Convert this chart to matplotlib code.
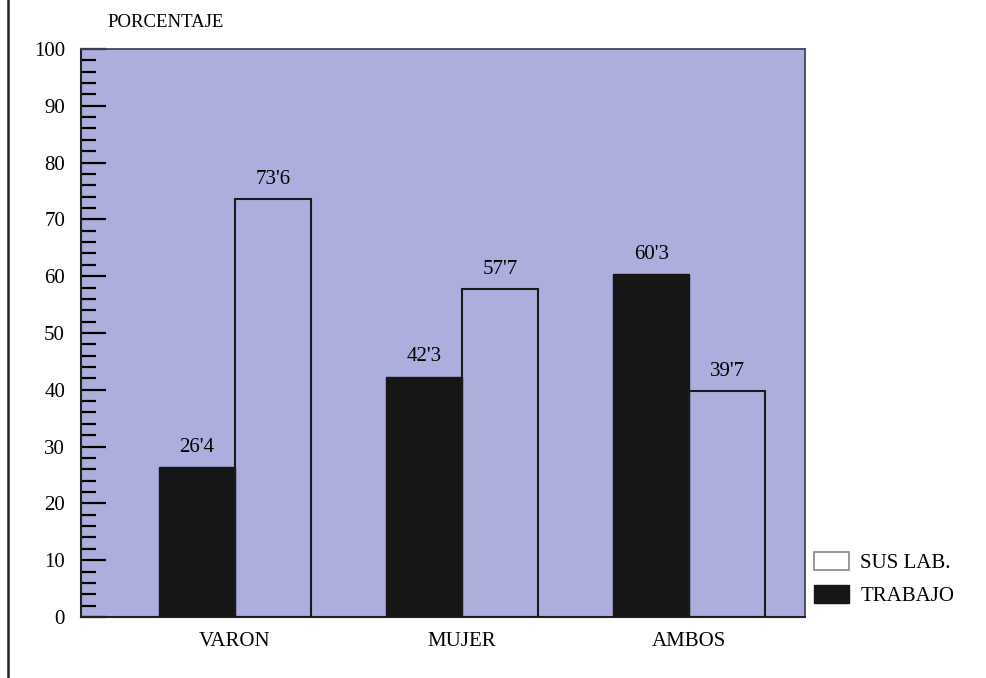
import numpy as np
import matplotlib.pyplot as plt
from matplotlib.lines import Line2D
from matplotlib.patches import Patch

# Datos
categorias = ["VARON", "MUJER", "AMBOS"]
trabajo = [26.4, 42.3, 60.3]
sus_lab = [73.6, 57.7, 39.7]
etiq_trabajo = ["26'4", "42'3", "60'3"]
etiq_sus_lab = ["73'6", "57'7", "39'7"]

plt.rcParams["font.family"] = ["Liberation Serif", "DejaVu Serif"]

fondo = "#acaede"

fig = plt.figure(figsize=(9.87, 6.78), dpi=100)
ax = fig.add_axes([0.0821, 0.0900, 0.7336, 0.8378])
ax.set_facecolor(fondo)

x = np.arange(len(categorias))
ancho = 0.335
ax.bar(x - ancho / 2, trabajo, ancho, color="#161616", edgecolor="#161616", linewidth=1, zorder=3)
# barras huecas: solo el contorno, se ve el fondo
ax.bar(x + ancho / 2, sus_lab, ancho, facecolor="none", edgecolor="#1a1a1a", linewidth=1.5, zorder=4)

for xi, v, t in zip(x, trabajo, etiq_trabajo):
    ax.text(xi - ancho / 2, v + 1.8, t, ha="center", va="bottom", fontsize=15)
for xi, v, t in zip(x, sus_lab, etiq_sus_lab):
    ax.text(xi + ancho / 2, v + 1.8, t, ha="center", va="bottom", fontsize=15)

ax.set_xlim(-0.678, 2.51)
ax.set_ylim(0, 100)
ax.set_xticks(x)
ax.set_xticklabels(categorias, fontsize=15)
ax.tick_params(axis="x", length=0, pad=11)
ax.set_yticks(np.arange(0, 101, 10))
ax.set_yticks(np.arange(0, 101, 2), minor=True)
ax.tick_params(axis="y", which="major", direction="in", length=18, width=1.6, labelsize=15, pad=11.5)
ax.tick_params(axis="y", which="minor", direction="in", length=11, width=1.6)

for lado in ["left", "bottom"]:
    ax.spines[lado].set_linewidth(1.5)
    ax.spines[lado].set_color("#222222")
for lado in ["top", "right"]:
    ax.spines[lado].set_linewidth(1.3)
    ax.spines[lado].set_color("#444455")

fig.text(0.109, 0.967, "PORCENTAJE", fontsize=13.5, ha="left", va="center")

# leyenda
manejadores = [Patch(facecolor="white", edgecolor="#888888", linewidth=1.2),
               Patch(facecolor="#161616", edgecolor="#161616")]
fig.legend(manejadores, ["SUS LAB.", "TRABAJO"], loc="center left",
           bbox_to_anchor=(0.8247, 0.146), frameon=False, fontsize=15,
           handlelength=1.68, handleheight=1.0, handletextpad=0.55, labelspacing=0.55,
           borderpad=0, borderaxespad=0)

# linea vertical del margen izquierdo
fig.add_artist(Line2D([0.0085, 0.0085], [0.0, 1.0], color="#222222", linewidth=1.8,
                      transform=fig.transFigure))

fig.savefig("out.png", dpi=100, facecolor="white")
